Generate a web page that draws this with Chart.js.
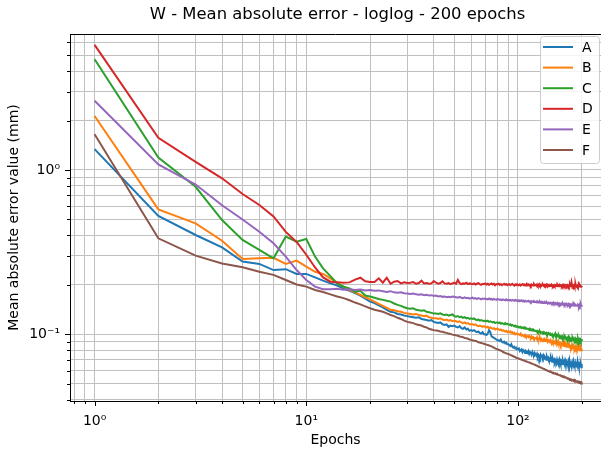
<!DOCTYPE html>
<html>
<head>
<meta charset="utf-8">
<script src="https://cdn.jsdelivr.net/npm/chart.js@4.4.1/dist/chart.umd.min.js"></script>
<style>
  body { margin: 0; background: #fff; }
  canvas { display: block; }
</style>
</head>
<body>
<canvas id="myChart" width="601" height="449"></canvas>
<script>
// Epoker (x-akse)
const epochs = [1,2,3,4,5,6,7,8,9,10,11,12,13,14,15,16,17,18,19,20,
  21,22,23,24,25,26,27,28,29,30,31,32,33,34,35,36,37,38,39,40,
  41,42,43,44,45,46,47,48,49,50,51,52,53,54,55,56,57,58,59,60,
  61,62,63,64,65,66,67,68,69,70,71,72,73,74,75,76,77,78,79,80,
  81,82,83,84,85,86,87,88,89,90,91,92,93,94,95,96,97,98,99,100,
  101,102,103,104,105,106,107,108,109,110,111,112,113,114,115,116,117,118,119,120,
  121,122,123,124,125,126,127,128,129,130,131,132,133,134,135,136,137,138,139,140,
  141,142,143,144,145,146,147,148,149,150,151,152,153,154,155,156,157,158,159,160,
  161,162,163,164,165,166,167,168,169,170,171,172,173,174,175,176,177,178,179,180,
  181,182,183,184,185,186,187,188,189,190,191,192,193,194,195,196,197,198,199,200];

const seriesNames = ['A', 'B', 'C', 'D', 'E', 'F'];
const seriesColors = ['#1f77b4', '#ff7f0e', '#2ca02c', '#d62728', '#9467bd', '#8c564b'];

const valuesA = [1.34,0.525,0.402,0.338,0.277,0.268,0.246,0.249,0.233,0.233,
  0.222,0.212,0.204,0.198,0.190,0.184,0.178,0.172,0.165,0.158,
  0.155,0.150,0.146,0.141,0.137,0.136,0.133,0.132,0.130,0.129,
  0.128,0.127,0.126,0.127,0.124,0.123,0.122,0.121,0.122,0.119,
  0.118,0.117,0.118,0.115,0.114,0.115,0.111,0.113,0.112,0.113,
  0.111,0.110,0.112,0.109,0.108,0.110,0.107,0.108,0.105,0.106,
  0.105,0.106,0.104,0.103,0.104,0.102,0.101,0.103,0.100,0.100,
  0.099,0.101,0.106,0.103,0.097,0.096,0.095,0.094,0.093,0.092,
  0.092,0.091,0.093,0.090,0.089,0.090,0.088,0.089,0.087,0.087,
  0.086,0.085,0.087,0.084,0.083,0.084,0.082,0.083,0.081,0.081,
  0.082,0.079,0.080,0.081,0.078,0.080,0.079,0.077,0.079,0.078,
  0.077,0.079,0.076,0.078,0.077,0.075,0.078,0.076,0.075,0.077,
  0.075,0.074,0.076,0.073,0.075,0.074,0.072,0.075,0.073,0.074,
  0.072,0.074,0.071,0.073,0.072,0.070,0.073,0.071,0.072,0.070,
  0.071,0.069,0.072,0.070,0.068,0.071,0.069,0.070,0.068,0.070,
  0.069,0.067,0.070,0.068,0.069,0.067,0.070,0.068,0.066,0.069,
  0.068,0.066,0.069,0.067,0.068,0.066,0.069,0.067,0.065,0.068,
  0.067,0.065,0.068,0.066,0.069,0.065,0.067,0.066,0.064,0.067,
  0.066,0.068,0.064,0.067,0.065,0.066,0.063,0.067,0.065,0.066,
  0.064,0.067,0.065,0.063,0.066,0.068,0.064,0.065,0.063,0.066];

const valuesB = [2.13,0.576,0.473,0.371,0.287,0.290,0.292,0.268,0.281,0.258,
  0.240,0.233,0.219,0.204,0.195,0.186,0.180,0.174,0.168,0.163,
  0.158,0.153,0.149,0.145,0.141,0.140,0.138,0.137,0.135,0.134,
  0.133,0.132,0.133,0.131,0.130,0.129,0.130,0.127,0.126,0.125,
  0.125,0.124,0.125,0.123,0.122,0.123,0.121,0.122,0.120,0.121,
  0.120,0.119,0.120,0.118,0.117,0.118,0.116,0.117,0.115,0.115,
  0.115,0.114,0.115,0.113,0.112,0.113,0.112,0.111,0.112,0.111,
  0.110,0.111,0.109,0.110,0.109,0.108,0.109,0.107,0.108,0.108,
  0.107,0.106,0.107,0.105,0.106,0.105,0.104,0.105,0.103,0.104,
  0.103,0.104,0.102,0.103,0.101,0.102,0.100,0.101,0.100,0.1005,
  0.100,0.099,0.101,0.098,0.099,0.098,0.097,0.099,0.097,0.098,
  0.097,0.096,0.098,0.096,0.095,0.097,0.095,0.096,0.094,0.095,
  0.095,0.094,0.096,0.093,0.094,0.093,0.095,0.092,0.094,0.093,
  0.092,0.093,0.091,0.093,0.092,0.091,0.092,0.090,0.092,0.091,
  0.090,0.092,0.090,0.089,0.091,0.089,0.090,0.088,0.090,0.091,
  0.089,0.088,0.090,0.088,0.087,0.089,0.087,0.088,0.086,0.088,
  0.087,0.086,0.088,0.086,0.085,0.087,0.085,0.086,0.084,0.086,
  0.085,0.086,0.084,0.085,0.083,0.085,0.084,0.083,0.085,0.083,
  0.084,0.082,0.084,0.083,0.082,0.084,0.082,0.083,0.081,0.083,
  0.082,0.083,0.081,0.082,0.080,0.083,0.081,0.082,0.080,0.082];

const valuesC = [4.72,1.19,0.79,0.496,0.375,0.326,0.290,0.393,0.366,0.380,
  0.297,0.252,0.226,0.204,0.195,0.190,0.181,0.184,0.172,0.170,
  0.167,0.164,0.162,0.160,0.158,0.154,0.151,0.149,0.146,0.144,
  0.143,0.144,0.141,0.140,0.139,0.140,0.137,0.136,0.135,0.134,
  0.134,0.133,0.134,0.132,0.131,0.132,0.130,0.131,0.132,0.129,
  0.128,0.129,0.127,0.128,0.126,0.127,0.125,0.126,0.124,0.125,
  0.124,0.125,0.123,0.122,0.123,0.121,0.122,0.121,0.120,0.121,
  0.120,0.121,0.119,0.120,0.119,0.118,0.119,0.117,0.118,0.118,
  0.117,0.118,0.116,0.117,0.116,0.115,0.117,0.115,0.116,0.115,
  0.114,0.115,0.113,0.114,0.113,0.112,0.113,0.111,0.112,0.111,
  0.111,0.110,0.111,0.109,0.110,0.109,0.110,0.108,0.109,0.108,
  0.108,0.107,0.108,0.106,0.107,0.106,0.107,0.105,0.106,0.105,
  0.105,0.104,0.105,0.103,0.104,0.103,0.104,0.102,0.103,0.103,
  0.102,0.103,0.101,0.102,0.101,0.102,0.100,0.101,0.100,0.101,
  0.100,0.099,0.100,0.099,0.100,0.098,0.099,0.098,0.099,0.101,
  0.098,0.099,0.097,0.098,0.097,0.098,0.096,0.097,0.096,0.097,
  0.096,0.097,0.095,0.096,0.095,0.096,0.094,0.096,0.095,0.094,
  0.095,0.094,0.096,0.094,0.093,0.095,0.094,0.093,0.094,0.093,
  0.094,0.092,0.094,0.093,0.092,0.094,0.092,0.093,0.091,0.093,
  0.092,0.094,0.092,0.091,0.093,0.092,0.093,0.091,0.092,0.0935];

const valuesD = [5.77,1.57,1.12,0.89,0.714,0.612,0.522,0.42,0.365,0.305,
  0.255,0.222,0.209,0.207,0.206,0.207,0.215,0.221,0.210,0.208,
  0.208,0.219,0.206,0.221,0.203,0.209,0.211,0.204,0.207,0.205,
  0.206,0.208,0.203,0.205,0.212,0.204,0.205,0.203,0.204,0.211,
  0.206,0.203,0.205,0.210,0.204,0.203,0.205,0.202,0.204,0.206,
  0.203,0.214,0.205,0.202,0.204,0.203,0.206,0.202,0.204,0.203,
  0.202,0.204,0.201,0.203,0.205,0.202,0.200,0.203,0.202,0.204,
  0.201,0.203,0.200,0.202,0.204,0.201,0.203,0.199,0.202,0.201,
  0.203,0.200,0.202,0.199,0.201,0.203,0.200,0.202,0.199,0.201,
  0.202,0.199,0.201,0.203,0.200,0.198,0.201,0.199,0.202,0.200,
  0.199,0.201,0.198,0.200,0.202,0.199,0.201,0.198,0.200,0.203,
  0.199,0.201,0.198,0.200,0.197,0.201,0.199,0.198,0.202,0.199,
  0.200,0.198,0.201,0.197,0.199,0.202,0.198,0.200,0.197,0.199,
  0.201,0.198,0.200,0.197,0.199,0.201,0.198,0.200,0.196,0.199,
  0.200,0.197,0.199,0.201,0.198,0.196,0.199,0.200,0.197,0.199,
  0.198,0.200,0.197,0.199,0.196,0.198,0.200,0.197,0.199,0.198,
  0.196,0.199,0.197,0.200,0.198,0.196,0.199,0.197,0.198,0.196,
  0.199,0.197,0.198,0.195,0.198,0.200,0.196,0.198,0.207,0.199,
  0.196,0.198,0.197,0.199,0.195,0.197,0.202,0.196,0.198,0.196,
  0.198,0.195,0.197,0.199,0.196,0.198,0.195,0.197,0.196,0.197];

const valuesE = [2.64,1.08,0.815,0.61,0.50,0.421,0.358,0.297,0.246,0.214,
  0.195,0.188,0.188,0.189,0.187,0.188,0.186,0.187,0.185,0.186,
  0.184,0.185,0.183,0.181,0.183,0.180,0.179,0.180,0.178,0.177,
  0.176,0.177,0.175,0.174,0.175,0.173,0.174,0.172,0.173,0.171,
  0.172,0.170,0.171,0.169,0.170,0.168,0.169,0.168,0.170,0.169,
  0.168,0.167,0.169,0.167,0.166,0.168,0.166,0.167,0.165,0.166,
  0.167,0.165,0.166,0.164,0.166,0.165,0.163,0.165,0.164,0.165,
  0.164,0.163,0.165,0.163,0.164,0.162,0.164,0.163,0.162,0.164,
  0.163,0.162,0.163,0.161,0.163,0.162,0.161,0.163,0.161,0.162,
  0.161,0.162,0.160,0.162,0.161,0.160,0.162,0.160,0.161,0.160,
  0.161,0.159,0.160,0.161,0.159,0.160,0.158,0.160,0.159,0.158,
  0.159,0.160,0.158,0.159,0.157,0.159,0.158,0.157,0.159,0.158,
  0.157,0.158,0.156,0.158,0.157,0.156,0.158,0.156,0.157,0.155,
  0.157,0.156,0.155,0.157,0.156,0.155,0.156,0.154,0.156,0.155,
  0.154,0.156,0.155,0.153,0.155,0.154,0.156,0.154,0.153,0.155,
  0.154,0.153,0.155,0.153,0.154,0.152,0.154,0.153,0.152,0.154,
  0.153,0.152,0.154,0.152,0.153,0.151,0.153,0.152,0.151,0.153,
  0.152,0.151,0.153,0.151,0.152,0.150,0.152,0.151,0.150,0.152,
  0.151,0.150,0.152,0.150,0.151,0.149,0.151,0.150,0.152,0.150,
  0.149,0.151,0.150,0.148,0.151,0.149,0.150,0.152,0.149,0.151];

const valuesF = [1.65,0.384,0.301,0.270,0.256,0.240,0.230,0.214,0.201,0.195,
  0.186,0.181,0.175,0.170,0.166,0.161,0.156,0.152,0.148,0.144,
  0.141,0.139,0.137,0.134,0.131,0.129,0.126,0.124,0.121,0.119,
  0.118,0.117,0.115,0.114,0.113,0.111,0.110,0.108,0.107,0.106,
  0.1055,0.105,0.104,0.1035,0.1025,0.102,0.101,0.1005,0.0995,0.099,
  0.0985,0.098,0.097,0.0965,0.096,0.095,0.0945,0.094,0.093,0.0925,
  0.092,0.0915,0.091,0.0905,0.0895,0.089,0.0885,0.088,0.0875,0.087,
  0.0865,0.086,0.0855,0.085,0.0845,0.0835,0.083,0.082,0.0815,0.081,
  0.0805,0.080,0.0795,0.079,0.078,0.0775,0.077,0.0765,0.076,0.0759,
  0.0755,0.075,0.0745,0.074,0.0735,0.073,0.0725,0.072,0.0718,0.0714,
  0.0711,0.0707,0.0705,0.0700,0.0698,0.0694,0.0692,0.0688,0.0685,0.0683,
  0.0679,0.0677,0.0673,0.0671,0.0667,0.0664,0.0662,0.0658,0.0656,0.0652,
  0.0650,0.0646,0.0644,0.0640,0.0638,0.0634,0.0632,0.0628,0.0626,0.0622,
  0.0620,0.0617,0.0615,0.0611,0.0609,0.0606,0.0604,0.0600,0.0598,0.0595,
  0.0593,0.0590,0.0591,0.0586,0.0585,0.0582,0.0584,0.0580,0.0578,0.0579,
  0.0575,0.0574,0.0570,0.0571,0.0567,0.0566,0.0563,0.0564,0.0560,0.0559,
  0.0556,0.0557,0.0553,0.0552,0.0549,0.0550,0.0546,0.0545,0.0542,0.0543,
  0.0540,0.0538,0.0539,0.0535,0.0534,0.0531,0.0533,0.0529,0.0530,0.0527,
  0.0526,0.0527,0.0523,0.0525,0.0521,0.0520,0.0522,0.0518,0.0519,0.0516,
  0.0517,0.0514,0.0515,0.0512,0.0514,0.0510,0.0512,0.0509,0.0511,0.0508];

// Akse-ticks (log, major + minor)
const xTickValues = [0.8,0.9,1,2,3,4,5,6,7,8,9,10,20,30,40,50,60,70,80,90,100,200];
const xMajorTicks = [1, 10, 100];
const xMajorLabels = ['10⁰', '10¹', '10²'];
const yTickValues = [0.04,0.05,0.06,0.07,0.08,0.09,0.1,0.2,0.3,0.4,0.5,0.6,0.7,0.8,0.9,1,2,3,4,5,6];
const yMajorTicks = [0.1, 1];
const yMajorLabels = ['10⁻¹', '10⁰'];

const chartTitle = 'W - Mean absolute error - loglog - 200 epochs';

Chart.defaults.font.family = "'DejaVu Sans', sans-serif";
Chart.defaults.font.size = 14;
Chart.defaults.color = '#000';

const allValues = [valuesA, valuesB, valuesC, valuesD, valuesE, valuesF];

// titel, ticks, top-ramme og legend
const extras = {
    id: 'extras',
    afterDraw(chart) {
        const { ctx, chartArea, scales } = chart;
        ctx.save();
        ctx.strokeStyle = '#000';
        ctx.lineWidth = 1;
        ctx.beginPath();
        ctx.moveTo(chartArea.left, chartArea.top + 0.5);
        ctx.lineTo(chartArea.right, chartArea.top + 0.5);
        ctx.stroke();

        scales.x.ticks.forEach(t => {
            const px = Math.round(scales.x.getPixelForValue(t.value)) + 0.5;
            const len = xMajorTicks.includes(t.value) ? 5 : 3;
            ctx.beginPath();
            ctx.moveTo(px, chartArea.bottom);
            ctx.lineTo(px, chartArea.bottom + len);
            ctx.stroke();
        });
        scales.y.ticks.forEach(t => {
            const py = Math.round(scales.y.getPixelForValue(t.value)) + 0.5;
            const len = yMajorTicks.includes(t.value) ? 5 : 3;
            ctx.beginPath();
            ctx.moveTo(chartArea.left, py);
            ctx.lineTo(chartArea.left - len, py);
            ctx.stroke();
        });

        ctx.fillStyle = '#000';
        ctx.font = "16.4px 'DejaVu Sans'";
        ctx.textAlign = 'center';
        ctx.textBaseline = 'alphabetic';
        ctx.fillText(chartTitle, (chartArea.left + chartArea.right) / 2 + 2, 18.5);

        // legend
        const bx = 540, by = 36, bw = 59, bh = 127, r = 3;
        ctx.fillStyle = 'rgba(255,255,255,0.8)';
        ctx.strokeStyle = '#cccccc';
        ctx.beginPath();
        ctx.roundRect(bx + 0.5, by + 0.5, bw, bh, r);
        ctx.fill();
        ctx.stroke();
        ctx.font = "14px 'DejaVu Sans'";
        ctx.textAlign = 'left';
        ctx.textBaseline = 'middle';
        chart.data.datasets.forEach((ds, i) => {
            const y = by + 11 + i * 20.6;
            ctx.strokeStyle = ds.borderColor;
            ctx.lineWidth = 2;
            ctx.beginPath();
            ctx.moveTo(bx + 3, y);
            ctx.lineTo(bx + 33, y);
            ctx.stroke();
            ctx.fillStyle = '#000';
            ctx.fillText(ds.label, bx + 42, y + 1);
        });
        ctx.restore();
    }
};

let ctx = document.getElementById('myChart').getContext('2d');
let myChart = new Chart(ctx, {
    type: 'line',
    data: {
        labels: epochs,
        datasets: seriesNames.map((name, i) => ({
            label: name,
            data: allValues[i],
            borderColor: seriesColors[i],
            backgroundColor: seriesColors[i],
            borderWidth: 2,
            pointRadius: 0,
            tension: 0,
            fill: false,
            order: seriesNames.length - i
        }))
    },
    options: {
        responsive: false,
        animation: false,
        layout: { padding: { top: 34, right: 0, left: 0, bottom: 0 } },
        plugins: {
            legend: { display: false },
            tooltip: { enabled: false }
        },
        scales: {
            x: {
                type: 'logarithmic',
                min: 0.7652,
                max: 246.7,
                bounds: 'data',
                afterBuildTicks: (axis) => { axis.ticks = xTickValues.map(v => ({ value: v })); },
                afterFit: (axis) => { axis.height = 48; },
                ticks: {
                    autoSkip: false,
                    maxRotation: 0,
                    padding: 12,
                    callback: (value) => {
                        const i = xMajorTicks.indexOf(value);
                        return i >= 0 ? xMajorLabels[i] : '';
                    }
                },
                grid: { color: '#c0c0c0', lineWidth: 1, drawTicks: false },
                border: { display: true, color: '#000', width: 1 },
                title: { display: true, text: 'Epochs', padding: { top: 0, bottom: 0 } }
            },
            y: {
                type: 'logarithmic',
                min: 0.03926,
                max: 6.725,
                bounds: 'data',
                afterBuildTicks: (axis) => { axis.ticks = yTickValues.map(v => ({ value: v })); },
                afterFit: (axis) => { axis.width = 70; },
                ticks: {
                    autoSkip: false,
                    padding: 10,
                    callback: (value) => {
                        const i = yMajorTicks.indexOf(value);
                        return i >= 0 ? yMajorLabels[i] : '';
                    }
                },
                grid: { color: '#c0c0c0', lineWidth: 1, drawTicks: false },
                border: { display: true, color: '#000', width: 1 },
                title: { display: true, text: 'Mean absolute error value (mm)', padding: { top: 6, bottom: 0 } }
            }
        }
    },
    plugins: [extras]
});
</script>
</body>
</html>
